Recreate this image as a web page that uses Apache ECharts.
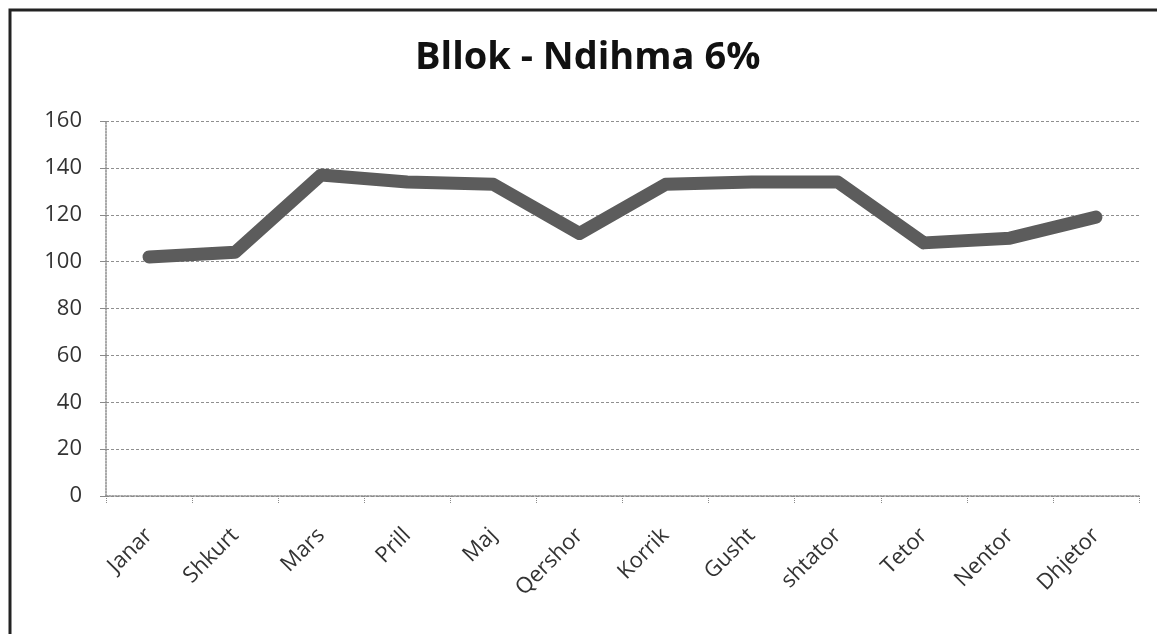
<!DOCTYPE html>
<html>
<head>
<meta charset="utf-8">
<title>Bllok - Ndihma 6%</title>
<script src="https://cdn.jsdelivr.net/npm/echarts@6/dist/echarts.min.js"></script>
<style>
    html, body { margin: 0; padding: 0; background: #fff; }
    #chart1 { width: 1157px; height: 634px; }
</style>
</head>
<body>
<div id="chart1"></div>
<script>
// 月份
var months = ['Janar', 'Shkurt', 'Mars', 'Prill', 'Maj', 'Qershor', 'Korrik', 'Gusht', 'shtator', 'Tetor', 'Nentor', 'Dhjetor'];
// 数值
var values = [102, 104, 137, 134, 133, 112, 133, 134, 134, 108, 110, 119];
// 纵轴刻度
var yTicks = [0, 20, 40, 60, 80, 100, 120, 140, 160];

var chart1 = echarts.init(document.getElementById("chart1"));

chart1.setOption({
    animation: false,
    title: {
        text: 'Bllok - Ndihma 6%',
        left: 410,
        top: 34,
        textStyle: {
            fontFamily: 'Open Sans',
            fontSize: 38,
            fontWeight: 'bold',
            color: '#111'
        }
    },
    // 外框
    graphic: [
        {
            type: 'rect',
            shape: { x: 10, y: 10, width: 1170, height: 650 },
            style: { fill: 'none', stroke: '#222', lineWidth: 3 }
        }
    ],
    grid: {
        left: 106,
        right: 18,
        top: 121,
        bottom: 138
    },
    xAxis: {
        type: 'category',
        data: months,
        boundaryGap: true,
        axisLine: {
            lineStyle: { color: '#8a8a8a', type: 'dotted', width: 1.5 }
        },
        axisTick: {
            show: true,
            length: 8,
            lineStyle: { color: '#8a8a8a', type: 'dotted' }
        },
        axisLabel: {
            rotate: 45,
            margin: 36,
            fontFamily: 'Open Sans',
            fontSize: 22,
            color: '#333'
        }
    },
    yAxis: {
        type: 'value',
        min: yTicks[0],
        max: yTicks[yTicks.length - 1],
        interval: yTicks[1] - yTicks[0],
        axisLine: {
            show: true,
            lineStyle: { color: '#8a8a8a', type: 'dotted', width: 1.5 }
        },
        axisTick: {
            show: true,
            length: 6,
            lineStyle: { color: '#8a8a8a' }
        },
        axisLabel: {
            margin: 24,
            fontFamily: 'Open Sans',
            fontSize: 22,
            color: '#333'
        },
        splitLine: {
            lineStyle: { color: '#8f8f8f', type: [3, 2], width: 1.2 }
        }
    },
    series: [
        {
            name: 'Ndihma',
            type: 'line',
            data: values,
            symbol: 'none',
            lineStyle: {
                color: '#5c5c5c',
                width: 13,
                cap: 'round',
                join: 'round'
            }
        }
    ]
});
</script>
</body>
</html>
